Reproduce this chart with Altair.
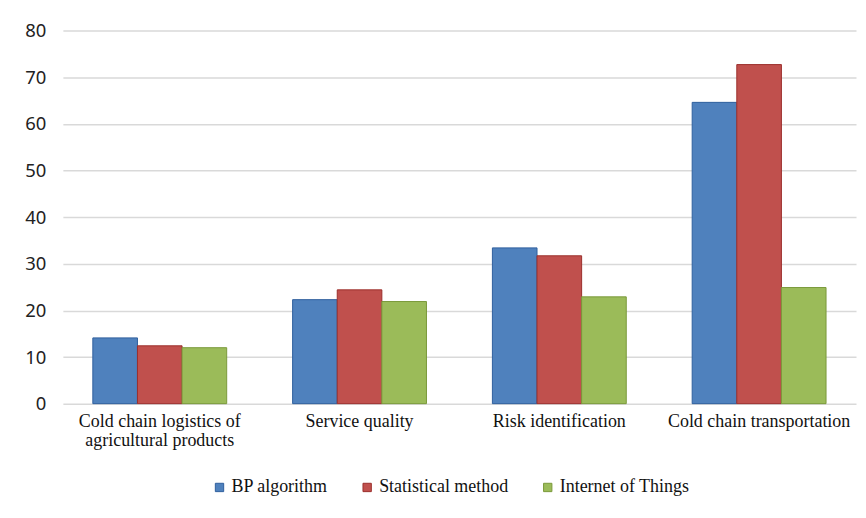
import altair as alt
import pandas as pd

categories = [
    "Cold chain logistics of\nagricultural products",
    "Service quality",
    "Risk  identification",
    "Cold chain transportation",
]
series = ["BP algorithm", "Statistical method", "Internet  of  Things"]
bp_values = [14.1, 22.3, 33.4, 64.6]
stat_values = [12.4, 24.4, 31.7, 72.7]
iot_values = [12.0, 21.9, 22.9, 24.9]
colors = ["#4F81BD", "#C0504D", "#9BBB59"]
strokes = ["#2F5F9E", "#9C2F2C", "#7A9A3A"]
y_ticks = [0, 10, 20, 30, 40, 50, 60, 70, 80]

rows = []
for s, vals in zip(series, [bp_values, stat_values, iot_values]):
    for c, v in zip(categories, vals):
        rows.append({"category": c, "series": s, "value": v})
df = pd.DataFrame(rows)

chart = alt.Chart(df).mark_bar(strokeWidth=1).encode(
    x=alt.X("category:N", sort=categories, title=None,
            scale=alt.Scale(paddingInner=0.33, paddingOuter=0.15),
            axis=alt.Axis(labelAngle=0, labelExpr="split(datum.label, '\\n')",
                          labelFont="Liberation Serif", labelFontSize=18,
                          labelColor="#111", labelPadding=9, labelLineHeight=19,
                          labelLimit=400, ticks=False, domain=False, grid=False)),
    xOffset=alt.XOffset("series:N", sort=series),
    y=alt.Y("value:Q", title=None,
            scale=alt.Scale(domain=[0, 80], nice=False),
            axis=alt.Axis(values=y_ticks, labelFont="Noto Sans", labelFontSize=18.5,
                          labelColor="#222", labelPadding=17, ticks=False,
                          domain=False, gridColor="#d9d9d9", gridWidth=1.5)),
    color=alt.Color("series:N", sort=series,
                    scale=alt.Scale(domain=series, range=colors),
                    legend=alt.Legend(title=None, orient="none", legendX=148, legendY=449,
                                      direction="horizontal", columns=3,
                                      symbolType="square", symbolSize=70,
                                      symbolStrokeWidth=1,
                                      labelFont="Liberation Serif", labelFontSize=18,
                                      labelColor="#111", columnPadding=30,
                                      labelOffset=3)),
    stroke=alt.Stroke("series:N", sort=series,
                      scale=alt.Scale(domain=series, range=strokes), legend=None),
).properties(
    width=795, height=374,
    autosize=alt.AutoSizeParams(type="none"),
    padding={"left": 55, "top": 22, "right": 2, "bottom": 106},
).configure(background="white").configure_view(
    stroke=None, strokeOpacity=0, strokeWidth=0
).configure_axis(
    domainColor="transparent", tickColor="transparent", domain=False, ticks=False
).configure_axisX(grid=False)

chart.save("out.html", embed_options={"renderer": "svg", "actions": False})
